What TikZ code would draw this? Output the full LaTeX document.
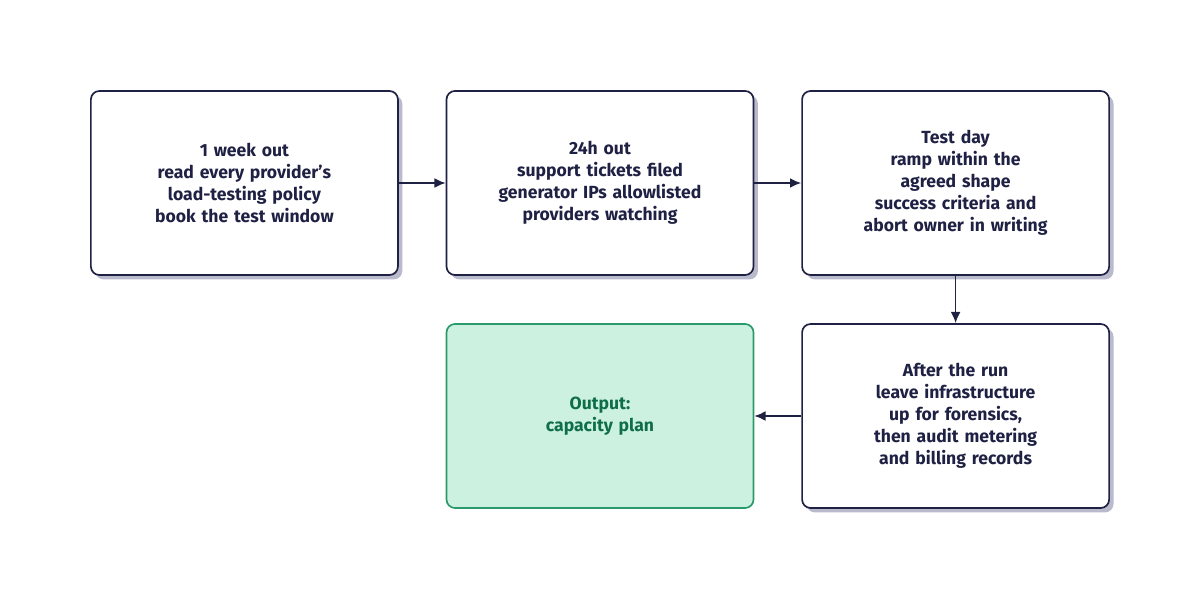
\documentclass[tikz,border=0pt]{standalone}
\usepackage{fontspec}
\setmainfont{Fira Sans}
\usetikzlibrary{positioning,shadows,arrows.meta}
\definecolor{ink}{HTML}{1F2144}
\definecolor{shade}{HTML}{B9BACC}
\definecolor{outfill}{HTML}{CDF1E1}
\definecolor{outline}{HTML}{2A9A6C}
\definecolor{outtext}{HTML}{0F6E4A}

\tikzset{
  stepbox/.style={draw=ink, line width=1.2pt, rounded corners=6pt, fill=white,
    minimum width=7.675cm, minimum height=4.6cm, text width=7cm, align=center,
    text=ink, font=\bfseries\fontsize{12.5}{15.6}\selectfont,
    drop shadow={shadow xshift=0.11cm, shadow yshift=-0.11cm, fill=shade, opacity=1}},
  outbox/.style={draw=outline, line width=1.2pt, rounded corners=6pt, fill=outfill,
    minimum width=7.675cm, minimum height=4.6cm, text width=7cm, align=center,
    text=outtext, font=\bfseries\fontsize{12.5}{15.6}\selectfont},
  link/.style={draw=ink, line width=1.2pt, -{Latex[length=8pt,width=7pt]}}
}

\begin{document}
\begin{tikzpicture}
  \useasboundingbox (0,0) rectangle (30,14.975);

  % top row
  \node[stepbox] (week) at (6.11,10.4) {1 week out\\read every provider's\\load-testing policy\\book the test window};
  \node[stepbox] (day) at (15,10.4) {24h out\\support tickets filed\\generator IPs allowlisted\\providers watching};
  \node[stepbox] (test) at (23.89,10.4) {Test day\\ramp within the\\agreed shape\\success criteria and\\abort owner in writing};

  % bottom row
  \node[stepbox] (after) at (23.89,4.575) {After the run\\leave infrastructure\\up for forensics,\\then audit metering\\and billing records};
  \node[outbox] (out) at (15,4.575) {Output:\\capacity plan};

  \draw[link] (week) -- (day);
  \draw[link] (day) -- (test);
  \draw[link] (test) -- (after);
  \draw[link] (after) -- (out);
\end{tikzpicture}
\end{document}
